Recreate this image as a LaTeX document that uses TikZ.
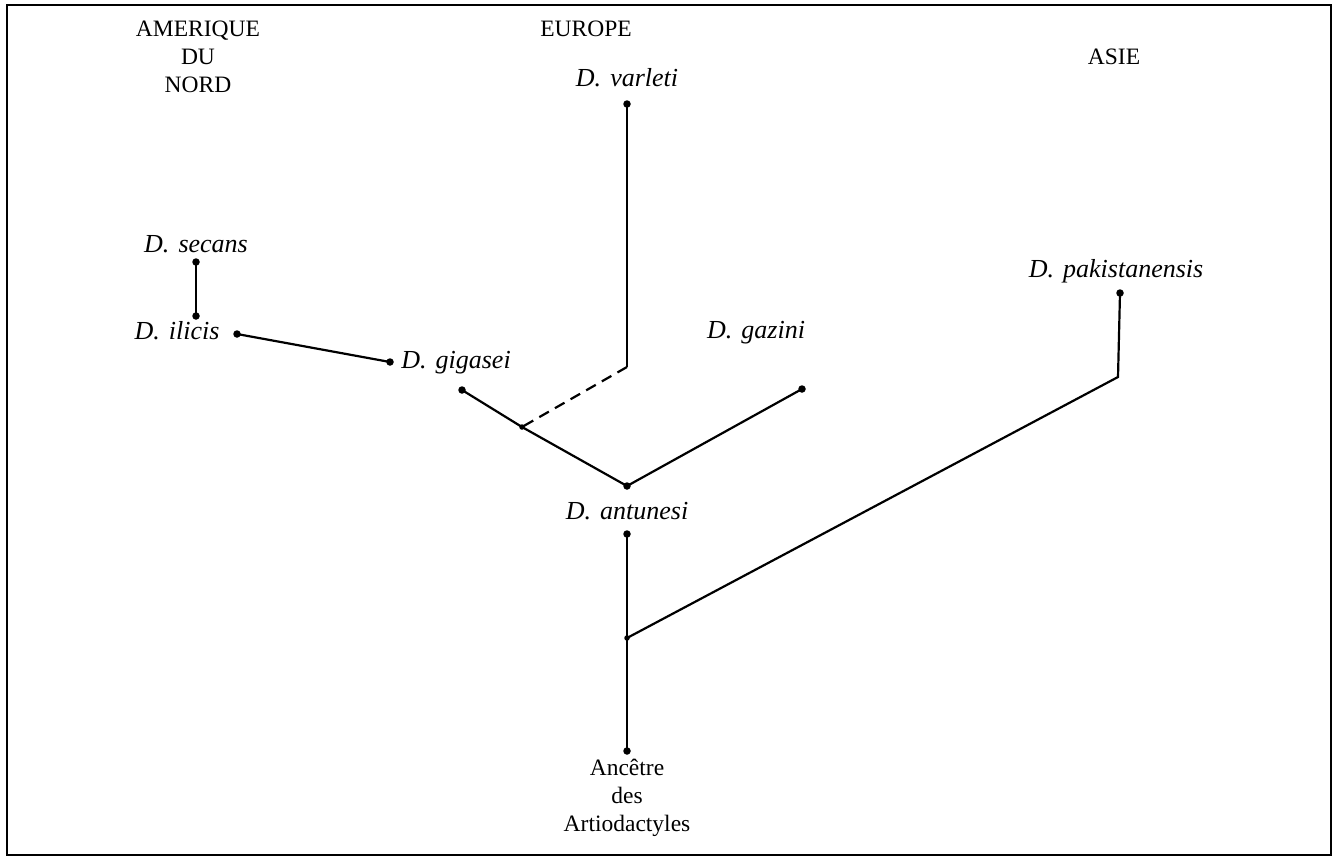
\documentclass[tikz,border=0pt]{standalone}
\usepackage{fontspec}
\setmainfont{Liberation Serif}
\begin{document}
\begin{tikzpicture}[x=1pt,y=-1pt,
  dot/.style={circle,fill=black,inner sep=0pt,minimum size=7.5pt},
  sdot/.style={circle,fill=black,inner sep=0pt,minimum size=5.5pt},
  lbl/.style={font=\fontsize{26}{30}\selectfont\itshape,inner sep=0pt},
  reg/.style={font=\fontsize{23.5}{28}\selectfont,inner sep=0pt,align=center},
  br/.style={line width=2.2pt},
  dsh/.style={line width=2.2pt,dash pattern=on 11pt off 7pt}]
\useasboundingbox (0,0) rectangle (1340,857);
\draw[line width=2pt] (7,5) rectangle (1331,855);
% region headings
\node[reg] (am) at (198,57) {AMERIQUE\\DU\\NORD};
\node[reg] (eu) at (586,29) {EUROPE};
\node[reg] (as) at (1114,57) {ASIE};
% labels
\node[lbl] (Lvar) at (627,78) {D.\hspace{0.35em}varleti};
\node[lbl] (Lsec) at (196,244) {D.\hspace{0.35em}secans};
\node[lbl] (Lili) at (177,331) {D.\hspace{0.35em}ilicis};
\node[lbl] (Lgig) at (456,363) {D.\hspace{0.35em}gigasei};
\node[lbl] (Lgaz) at (756,333) {D.\hspace{0.35em}gazini};
\node[lbl] (Lant) at (627,511) {D.\hspace{0.35em}antunesi};
\node[lbl] (Lpak) at (1116,271) {D.\hspace{0.35em}pakistanensis};
\node[reg] (anc) at (627,798) {Anc\^etre\\des\\Artiodactyles};
% points
\node[dot] (var) at (627,104) {};
\coordinate (vk) at (627,367);
\node[dot] (sec) at (196,262) {};
\node[dot] (ili2) at (196,316) {};
\node[dot] (ili) at (237,334) {};
\node[dot] (gig) at (390,362) {};
\node[dot] (gig2) at (462,390) {};
\node[sdot] (j1) at (522,427) {};
\node[dot] (ant) at (627,486) {};
\node[dot] (gaz) at (802,389) {};
\node[dot] (ant2) at (627,534) {};
\node[sdot] (j2) at (627,638) {};
\node[dot] (root) at (627,751) {};
\coordinate (pk) at (1118,377);
\node[dot] (pak) at (1120,293) {};
% branches
\draw[br] (var.center) -- (vk);
\draw[dsh] (vk) -- (j1.center);
\draw[br] (sec.center) -- (ili2.center);
\draw[br] (ili.center) -- (gig.center);
\draw[br] (gig2.center) -- (j1.center) -- (ant.center) -- (gaz.center);
\draw[br] (ant2.center) -- (j2.center) -- (root.center);
\draw[br] (j2.center) -- (pk) -- (pak.center);
\end{tikzpicture}
\end{document}
